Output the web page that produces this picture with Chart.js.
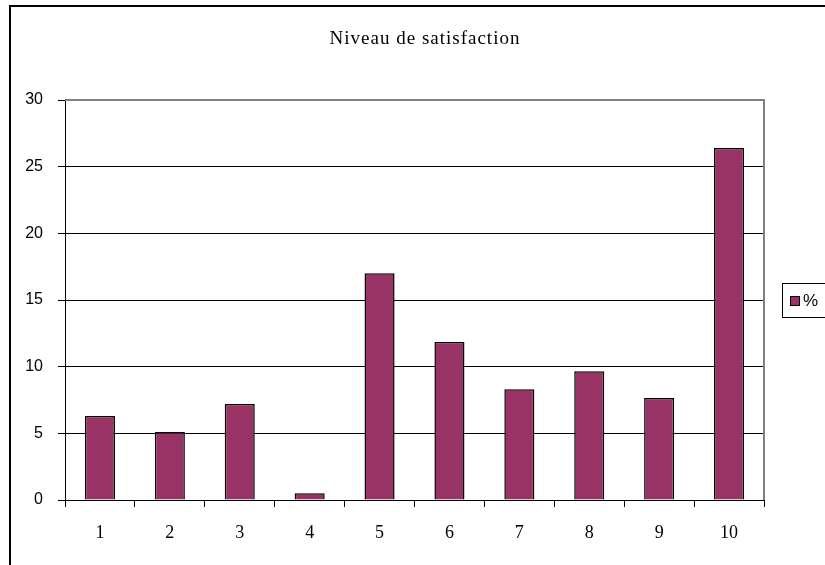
<!DOCTYPE html>
<html>
<head>
<meta charset="utf-8">
<title>Niveau de satisfaction</title>
<script src="https://cdn.jsdelivr.net/npm/chart.js@4"></script>
<style>
    html, body { margin: 0; padding: 0; background: #fff; }
    #wrap { width: 825px; height: 565px; position: relative; }
</style>
</head>
<body>
<div id="wrap"><canvas id="satChart" width="825" height="565"></canvas></div>
<script>
// Chart data
const chartTitle = 'Niveau de satisfaction';
const levels = ['1', '2', '3', '4', '5', '6', '7', '8', '9', '10'];
const percents = [6.3, 5.1, 7.2, 0.5, 17.0, 11.85, 8.3, 9.65, 7.65, 26.4];
const seriesName = '%';
const yTicks = [0, 5, 10, 15, 20, 25, 30];

const barColor = '#993366';

// frame, plot border, title and legend box (Excel look)
const excelDecor = {
    id: 'excelDecor',
    afterDraw(chart) {
        const ctx = chart.ctx;
        const area = chart.chartArea;
        ctx.save();

        // outer chart frame
        ctx.strokeStyle = '#000';
        ctx.lineWidth = 2;
        ctx.beginPath();
        ctx.moveTo(10, 565);
        ctx.lineTo(10, 6);
        ctx.lineTo(825, 6);
        ctx.stroke();

        // plot area border (top + right) in gray
        ctx.strokeStyle = '#808080';
        ctx.lineWidth = 2;
        ctx.beginPath();
        ctx.moveTo(area.left, area.top);
        ctx.lineTo(area.right, area.top);
        ctx.lineTo(area.right, area.bottom);
        ctx.stroke();

        // title
        ctx.fillStyle = '#000';
        ctx.font = '19px "Liberation Serif", serif';
        ctx.letterSpacing = '1px';
        ctx.textAlign = 'center';
        ctx.textBaseline = 'alphabetic';
        ctx.fillText(chartTitle, 425, 44);
        ctx.letterSpacing = '0px';

        // legend box
        ctx.strokeStyle = '#000';
        ctx.lineWidth = 1;
        ctx.strokeRect(782.5, 283.5, 60, 34);
        ctx.fillStyle = barColor;
        ctx.fillRect(790, 296, 10, 10);
        ctx.strokeRect(790.5, 296.5, 9, 9);
        ctx.fillStyle = '#000';
        ctx.font = '17px "Liberation Sans", sans-serif';
        ctx.textAlign = 'left';
        ctx.textBaseline = 'middle';
        ctx.fillText(seriesName, 803, 301);

        ctx.restore();
    }
};

const chart = new Chart(document.getElementById('satChart'), {
    type: 'bar',
    data: {
        labels: levels,
        datasets: [{
            label: seriesName,
            data: percents,
            backgroundColor: barColor,
            borderColor: '#000',
            borderWidth: 1.5,
            barPercentage: 0.43,
            categoryPercentage: 1
        }]
    },
    options: {
        responsive: false,
        animation: false,
        layout: {
            padding: { top: 100, right: 61, bottom: 0, left: 0 }
        },
        plugins: {
            legend: { display: false },
            title: { display: false },
            tooltip: { enabled: false }
        },
        scales: {
            x: {
                offset: true,
                afterFit: (scale) => { scale.height = 65; },
                grid: {
                    offset: true,
                    drawOnChartArea: false,
                    drawTicks: true,
                    tickLength: 7,
                    tickColor: '#000'
                },
                border: { color: '#000', width: 1 },
                ticks: {
                    color: '#000',
                    padding: 15,
                    maxRotation: 0,
                    font: { family: '"Liberation Serif", serif', size: 18 }
                }
            },
            y: {
                min: 0,
                max: 30,
                afterFit: (scale) => { scale.width = 65; },
                afterBuildTicks: (scale) => {
                    scale.ticks = yTicks.map(v => ({ value: v }));
                },
                grid: {
                    color: '#000',
                    lineWidth: 1,
                    tickLength: 7,
                    tickColor: '#000'
                },
                border: { color: '#000', width: 1 },
                ticks: {
                    color: '#000',
                    padding: 15,
                    font: { family: '"Liberation Sans", sans-serif', size: 16 }
                }
            }
        }
    },
    plugins: [excelDecor]
});
</script>
</body>
</html>
